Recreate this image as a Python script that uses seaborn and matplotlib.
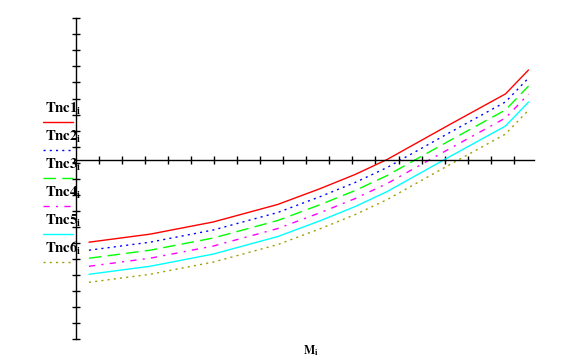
import seaborn as sns
import matplotlib.pyplot as plt
import pandas as pd
from matplotlib.lines import Line2D

# values (x in tick units, y in tick units)
mi = [0.55, 3.2, 5.95, 8.75, 10.6, 12.1, 13.5, 16.25, 18.65, 19.65]
tnc1 = [-5.15, -4.65, -3.89, -2.80, -1.81, -0.94, 0.00, 2.20, 4.09, 5.58]
tnc2 = [-5.65, -5.15, -4.39, -3.30, -2.31, -1.44, -0.50, 1.70, 3.59, 5.08]
tnc3 = [-6.15, -5.65, -4.89, -3.80, -2.81, -1.94, -1.00, 1.20, 3.09, 4.58]
tnc4 = [-6.65, -6.15, -5.39, -4.30, -3.31, -2.44, -1.50, 0.70, 2.59, 4.08]
tnc5 = [-7.15, -6.65, -5.89, -4.80, -3.81, -2.94, -2.00, 0.20, 2.09, 3.58]
tnc6 = [-7.65, -7.15, -6.39, -5.30, -4.31, -3.44, -2.50, -0.30, 1.59, 3.08]
names = ['Tnc1', 'Tnc2', 'Tnc3', 'Tnc4', 'Tnc5', 'Tnc6']

sns.set_style("white")
plt.rcParams['mathtext.fontset'] = 'stix'
plt.rcParams['font.family'] = ['Liberation Serif', 'DejaVu Serif']

rows = []
for name, vals in zip(names, [tnc1, tnc2, tnc3, tnc4, tnc5, tnc6]):
    for x, y in zip(mi, vals):
        rows.append({'Mi': x, 'Tnc': y, 'curve': name})
df = pd.DataFrame(rows)

colors = ['#ff0000', '#0000ff', '#00ff00', '#ff00ff', '#00ffff', '#a0a000']
dashes = {'Tnc1': '', 'Tnc2': (1.5, 3), 'Tnc3': (9, 4.5),
          'Tnc4': (4.5, 4.5, 1.5, 4.5), 'Tnc5': '', 'Tnc6': (1.5, 3)}

fig = plt.figure(figsize=(5.67, 3.63), dpi=100)
ax = fig.add_axes([0.1346, 0.0653, 0.8077, 0.8843])
sns.lineplot(data=df, x='Mi', y='Tnc', hue='curve', style='curve',
             palette=colors, dashes=dashes, linewidth=1, legend=False, ax=ax)

ax.set_xlim(0, 19.9)
ax.set_ylim(-11.2, 8.8)
ax.set_xticks(range(1, 20))
ax.set_yticks([-11.2 + k for k in range(21)])
ax.set_xticklabels([])
ax.set_yticklabels([])
ax.set_xlabel('')
ax.set_ylabel('')
for s in ['top', 'right']:
    ax.spines[s].set_visible(False)
ax.spines['left'].set_position(('data', 0))
ax.spines['bottom'].set_position(('data', 0))
for s in ['left', 'bottom']:
    ax.spines[s].set_color('black')
    ax.spines[s].set_linewidth(1)
ax.tick_params(direction='inout', length=6, width=1, color='black',
               bottom=True, left=True)

# legend: name above a sample of the line
W, H = 567.0, 363.0
lines = ax.get_lines()
for k, name in enumerate(names):
    ty = 112.7 + 28 * k
    ly = 122.3 + 28 * k
    fig.text(45 / W, 1 - ty / H, r'$\mathbf{%s}_{\mathbf{i}}$' % name,
             fontsize=10.5, color='black', va='baseline', ha='left')
    ln = lines[k]
    fig.add_artist(Line2D([43.3 / W, 72.7 / W], [1 - ly / H, 1 - ly / H],
                          color=ln.get_color(), linestyle=ln.get_linestyle(),
                          linewidth=ln.get_linewidth(),
                          dashes=dashes[name] if dashes[name] else (None, None)))

fig.text(303 / W, 1 - 355 / H, r'$\mathbf{M}_{\mathbf{i}}$', fontsize=8.5,
         color='black', va='baseline', ha='left')

fig.savefig('out.png', dpi=100)
